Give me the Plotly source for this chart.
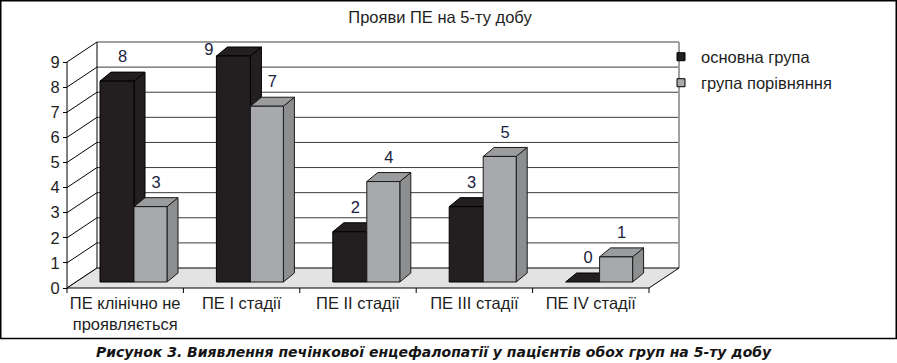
import plotly.graph_objects as go

# ---------------- data ----------------
categories = ["ПЕ клінічно не<br>проявляється", "ПЕ I стадії", "ПЕ II стадії",
              "ПЕ III стадії", "ПЕ IV стадії"]
series_names = ["основна група", "група порівняння"]
main_group = [8, 9, 2, 3, 0]
comparison_group = [3, 7, 4, 5, 1]
y_tick_values = [0, 1, 2, 3, 4, 5, 6, 7, 8, 9]
title_text = "Прояви ПЕ на 5-ту добу"
caption_text = "Рисунок 3. Виявлення печінкової енцефалопатії у пацієнтів обох груп на 5-ту добу"

series_values = [main_group, comparison_group]

# ---------------- geometry (pixels -> data units) ----------------
W, H = 897, 363
ML, MR, MT, MB = 63, 215, 36, 70
PW, PH = W - ML - MR, H - MT - MB
PX_CAT = 116.4      # px per category
PX_VAL = 25.11      # px per value unit
X_ORIGIN_PX = 67    # front-left corner of the chart
Y_ZERO_PX = 288     # front floor edge

x_lo = -0.5 - (X_ORIGIN_PX - ML) / PX_CAT
x_hi = x_lo + PW / PX_CAT
y_lo = -((H - MB) - Y_ZERO_PX) / PX_VAL
y_hi = y_lo + PH / PX_VAL


def paper_x(px):
    return (px - ML) / PW


def paper_y(py):
    return 1 - (py - MT) / PH


FDX, FDY = 30 / PX_CAT, 20 / PX_VAL       # floor / wall depth
BASE = 6 / PX_VAL                         # bars stand slightly inside the floor
BDX, BDY = 11 / PX_CAT, 9 / PX_VAL        # bar depth
SLOTS = [(-25.2 / PX_CAT, 8.8 / PX_CAT), (8.8 / PX_CAT, 41.8 / PX_CAT)]
LABEL_RISE = 14 / PX_VAL
LABEL_NUDGE_PX = {(1, 0): (-30, 18)}

FRONT = ["#231f20", "#a7a9ac"]
TOP = ["#231f20", "#9b9c9e"]
SIDE = ["#231f20", "#8d8e90"]
EDGE = ["#000000", "#1a1a1a"]
FONT = "Liberation Sans, Arial, sans-serif"
FS = 16.5

n_cat = len(categories)
traces = []


def poly(xs, ys, fill, line_color, width=1):
    return go.Scatter(x=xs + [xs[0]], y=ys + [ys[0]], mode="lines", fill="toself",
                      fillcolor=fill, line=dict(color=line_color, width=width),
                      hoverinfo="skip", showlegend=False)


def segs(pairs, color, width=1):
    xs, ys = [], []
    for (xa, ya), (xb, yb) in pairs:
        xs += [xa, xb, None]
        ys += [ya, yb, None]
    return go.Scatter(x=xs, y=ys, mode="lines", line=dict(color=color, width=width),
                      hoverinfo="skip", showlegend=False)


left = -0.5
right = n_cat - 0.5
top_val = max(y_tick_values)

# back wall gridlines
traces.append(segs([((left + FDX, v + FDY), (right + FDX, v + FDY))
                    for v in y_tick_values[1:-1]], "#3c3c3c", 1))
# back wall top and right edges (grey)
traces.append(segs([((left + FDX, top_val + FDY), (right + FDX, top_val + FDY)),
                    ((right + FDX, FDY), (right + FDX, top_val + FDY))], "#a0a0a0", 2))
# back wall left edge, side wall diagonals, front vertical
pairs = [((left + FDX, FDY), (left + FDX, top_val + FDY)),
         ((left, 0), (left, top_val))]
pairs += [((left, v), (left + FDX, v + FDY)) for v in y_tick_values]
traces.append(segs(pairs, "#000000", 1))
# floor
traces.append(poly([left, right, right + FDX, left + FDX], [0, 0, FDY, FDY], "#e3e3e3", "#000000", 1))
# x tick marks
tick_len = 5 / PX_VAL
traces.append(segs([((left + k, 0), (left + k, -tick_len)) for k in range(n_cat + 1)], "#000000", 1))

# bars
for i in range(n_cat):
    for s in range(2):
        v = series_values[s][i]
        xl, xr = i + SLOTS[s][0], i + SLOTS[s][1]
        b, t = BASE, BASE + v
        if v > 0:
            traces.append(poly([xr, xr + BDX, xr + BDX, xr], [b, b + BDY, t + BDY, t], SIDE[s], EDGE[s]))
        traces.append(poly([xl, xr, xr + BDX, xl + BDX], [t, t, t + BDY, t + BDY], TOP[s], EDGE[s]))
        if v > 0:
            traces.append(poly([xl, xr, xr, xl], [b, b, t, t], FRONT[s], EDGE[s]))

# data labels
lx, ly, lt = [], [], []
for i in range(n_cat):
    for s in range(2):
        v = series_values[s][i]
        xl, xr = i + SLOTS[s][0], i + SLOTS[s][1]
        nx, ny = LABEL_NUDGE_PX.get((i, s), (0, 0))
        lx.append((xl + xr) / 2 + BDX / 2 + nx / PX_CAT)
        ly.append(BASE + v + BDY + LABEL_RISE - ny / PX_VAL)
        lt.append(str(v))
traces.append(go.Scatter(x=lx, y=ly, text=lt, mode="text", textposition="middle center",
                         textfont=dict(family=FONT, size=FS, color="#1a2240"),
                         cliponaxis=False, hoverinfo="skip", showlegend=False))

# legend entries
for s in range(2):
    traces.append(go.Scatter(x=[None], y=[None], mode="markers", name=series_names[s],
                             marker=dict(symbol="square", size=8, color=FRONT[s],
                                         line=dict(color="#000000", width=1)),
                             legend="legend" if s == 0 else "legend2", showlegend=True))

fig = go.Figure(traces)

legend_common = dict(xanchor="left", yanchor="middle", bgcolor="rgba(0,0,0,0)",
                     font=dict(family=FONT, size=FS, color="#1e1e1e"), itemwidth=30,
                     borderwidth=0)

fig.update_layout(
    width=W, height=H,
    margin=dict(l=ML, r=MR, t=MT, b=MB, pad=0),
    paper_bgcolor="white", plot_bgcolor="white",
    font=dict(family=FONT, color="#1e1e1e"),
    title=dict(text=title_text, x=440 / W, xref="container", xanchor="center",
               y=1 - 17 / H, yref="container", yanchor="middle",
               font=dict(family=FONT, size=FS, color="#1e1e1e")),
    xaxis=dict(range=[x_lo, x_hi], tickvals=list(range(n_cat)), ticktext=categories,
               ticks="", showgrid=False, zeroline=False, showline=False,
               anchor="free", position=paper_y(Y_ZERO_PX), fixedrange=True,
               tickfont=dict(family=FONT, size=FS, color="#1e1e1e"), ticklabelstandoff=3),
    yaxis=dict(range=[y_lo, y_hi], tickvals=y_tick_values, ticks="outside", ticklen=4,
               tickcolor="#000000", showgrid=False, zeroline=False, showline=False,
               anchor="free", position=paper_x(X_ORIGIN_PX), fixedrange=True,
               tickfont=dict(family=FONT, size=FS, color="#1e1e1e")),
    legend=dict(x=paper_x(661), y=paper_y(57), **legend_common),
    legend2=dict(x=paper_x(661), y=paper_y(83), **legend_common),
    shapes=[dict(type="rect", xref="paper", yref="paper",
                 x0=paper_x(0.75), x1=paper_x(896.25), y0=paper_y(338.5), y1=paper_y(0.75),
                 line=dict(color="#000000", width=1.5), layer="above")],
    annotations=[dict(text=caption_text, xref="paper", yref="paper",
                      x=paper_x(434), y=paper_y(352), xanchor="center", yanchor="middle",
                      showarrow=False,
                      font=dict(family="DejaVu Sans, Liberation Sans, sans-serif", size=14,
                                color="#141414", weight="bold", style="italic"))],
)

fig.write_html("out.html", config={"displayModeBar": False},
               post_script="document.body.style.margin='0';document.body.style.padding='0';")
